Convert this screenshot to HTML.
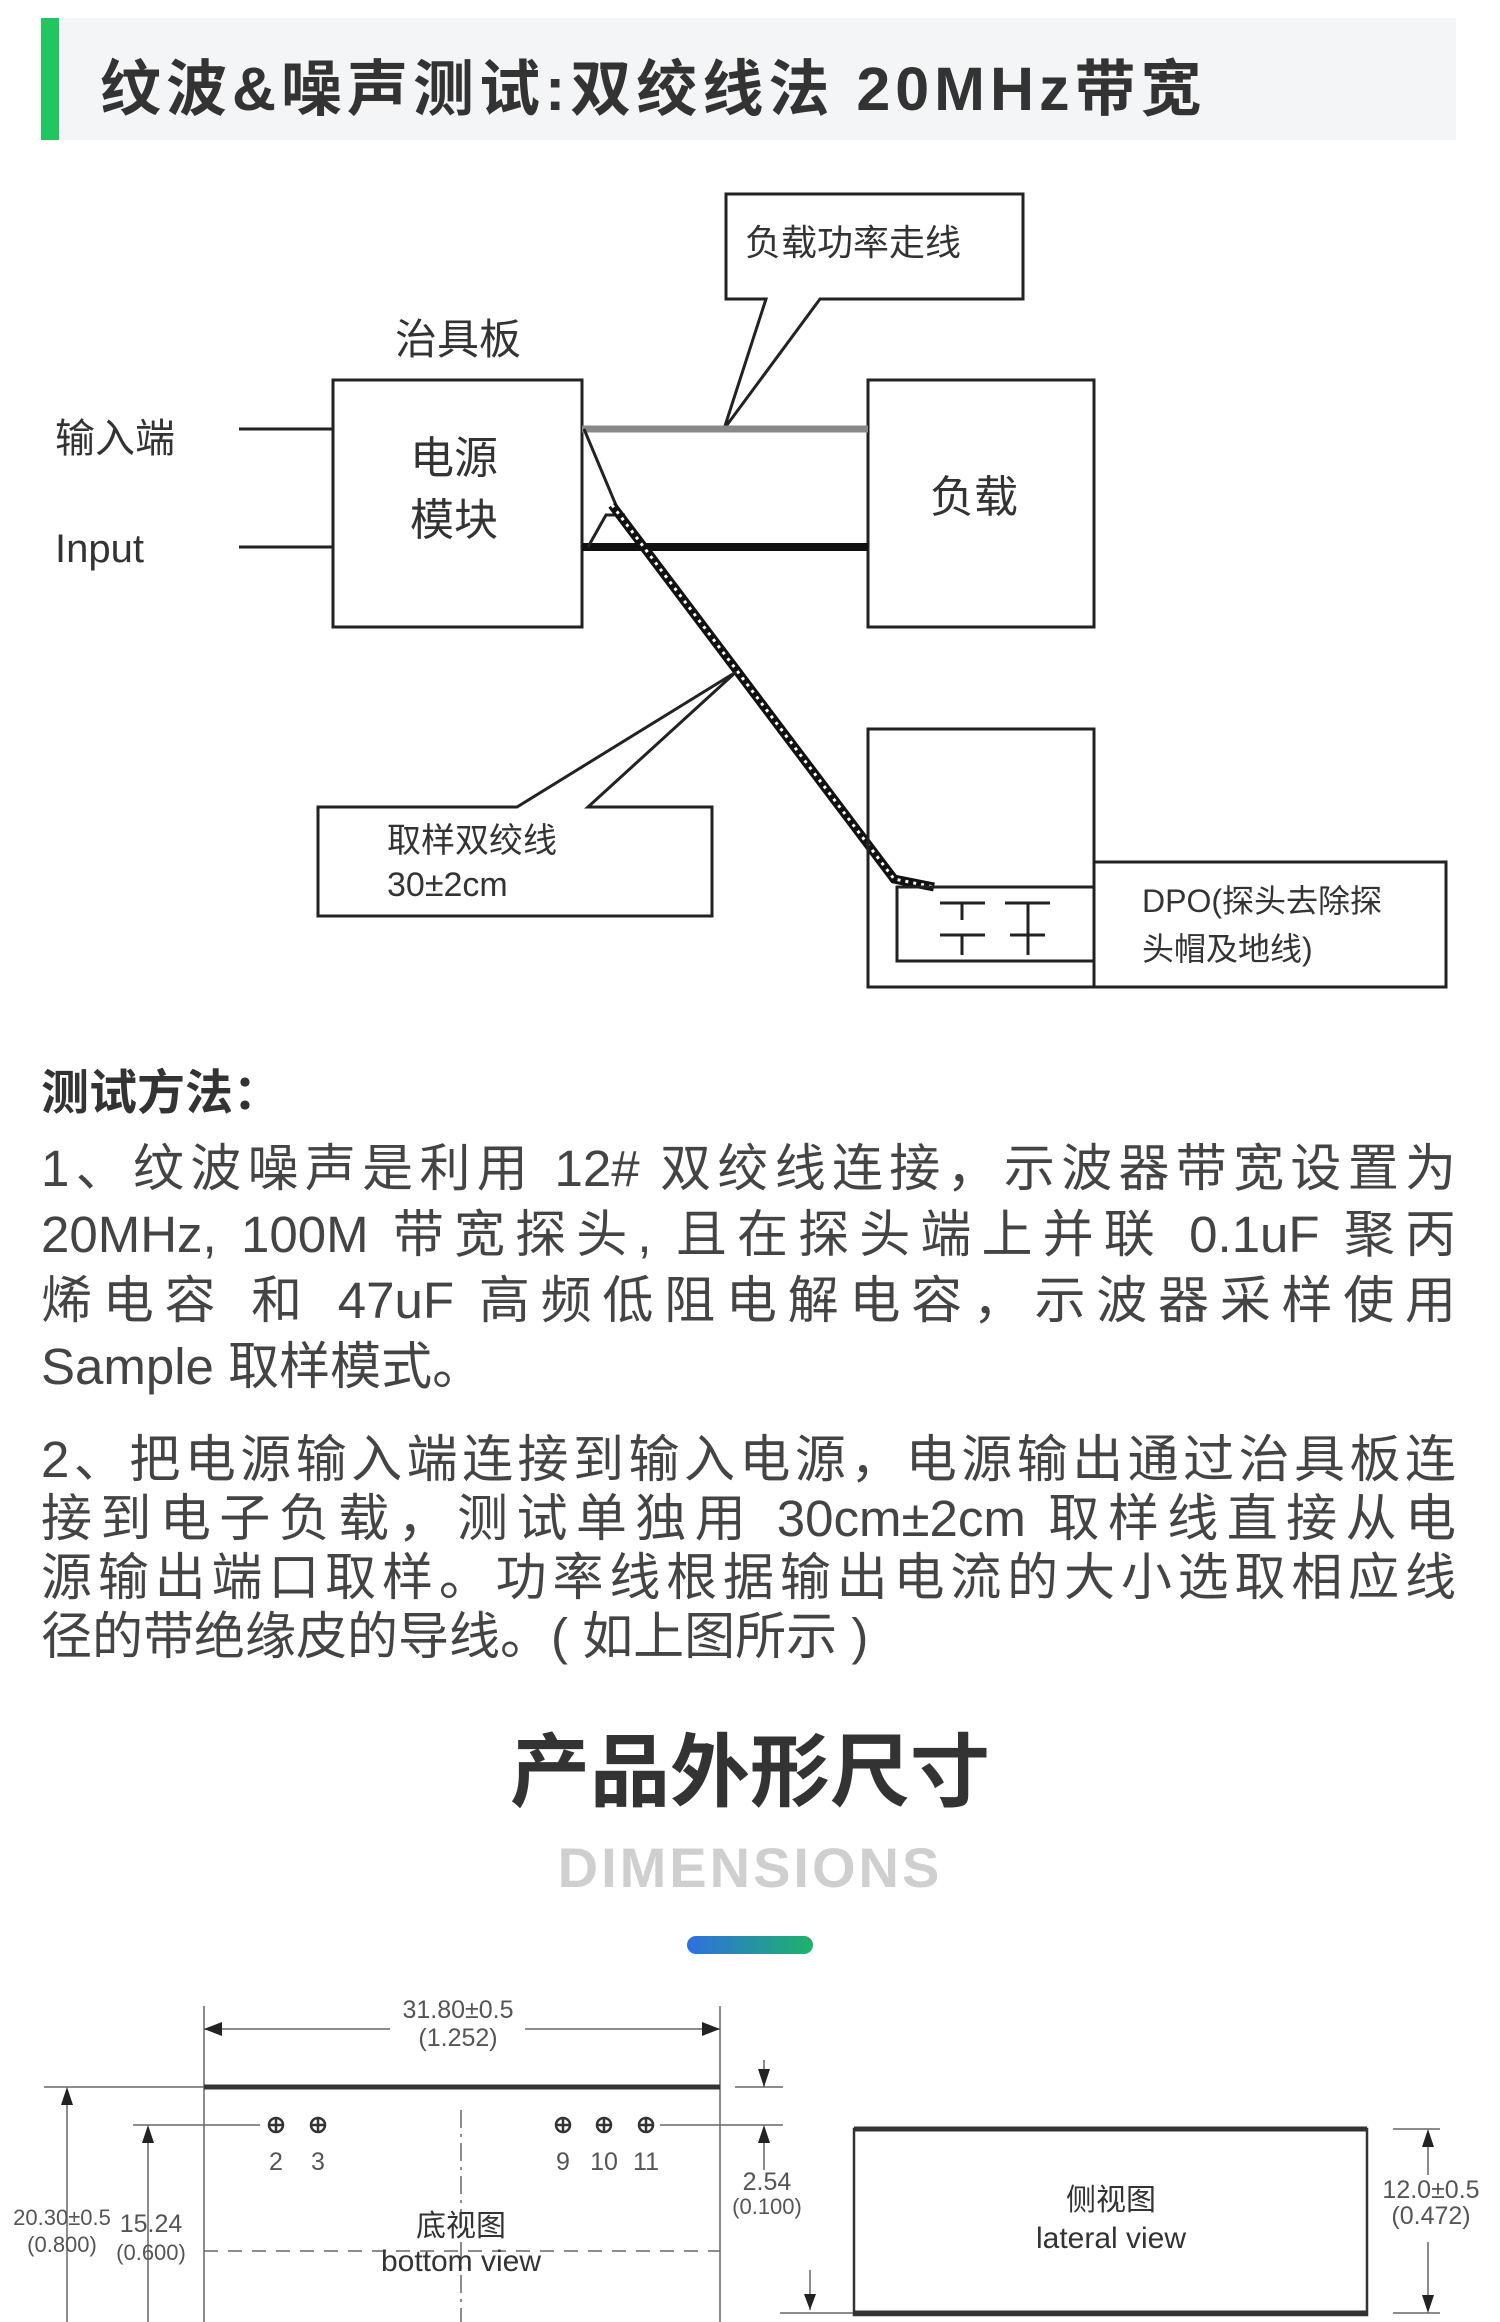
<!DOCTYPE html>
<html><head><meta charset="utf-8">
<style>
html,body{margin:0;padding:0;background:#fff;}
body{width:1500px;height:2322px;position:relative;overflow:hidden;font-family:"Liberation Sans","Noto Sans CJK SC",sans-serif;}
.hdr{position:absolute;left:41px;top:18px;width:1415px;height:122px;background:#f4f5f7;}
.bar{position:absolute;left:41px;top:18px;width:18px;height:122px;background:#22c55e;}
.title{position:absolute;left:100px;top:39px;font-size:61px;font-weight:bold;color:#333;white-space:nowrap;letter-spacing:5px;}
.ln{position:absolute;left:41px;width:1415px;font-size:51px;color:#444;text-align:justify;text-align-last:justify;white-space:nowrap;line-height:1;}
.h3{position:absolute;left:41px;top:1053px;font-size:48px;font-weight:bold;color:#333;}
.big{position:absolute;left:0;width:1500px;text-align:center;}
</style></head><body>
<div class="hdr"></div><div class="bar"></div>
<div class="title">纹波&amp;噪声测试:双绞线法 20MHz带宽</div>

<svg style="position:absolute;left:0;top:0" width="1500" height="1000" font-family="Liberation Sans, Noto Sans CJK SC, sans-serif" fill="none" stroke="#222">
 <path d="M726 194 H1023 V299 H820 L724 429 L766 299 H726 Z" stroke-width="3" fill="#fff"/>
 <text x="745" y="255" font-size="36" fill="#333" stroke="none">负载功率走线</text>
 <text x="395" y="354" font-size="42" fill="#333" stroke="none">治具板</text>
 <rect x="333" y="380" width="249" height="247" stroke-width="3"/>
 <rect x="868" y="380" width="226" height="247" stroke-width="3"/>
 <text x="410" y="473" font-size="44" fill="#333" stroke="none">电源</text>
 <text x="410" y="535" font-size="44" fill="#333" stroke="none">模块</text>
 <text x="930" y="512" font-size="44" fill="#333" stroke="none">负载</text>
 <text x="55" y="452" font-size="40" fill="#333" stroke="none">输入端</text>
 <text x="55" y="562" font-size="40" fill="#333" stroke="none">Input</text>
 <line x1="239" y1="429" x2="333" y2="429" stroke-width="3"/>
 <line x1="239" y1="547" x2="333" y2="547" stroke-width="3"/>
 <line x1="582" y1="429" x2="868" y2="429" stroke="#888" stroke-width="7"/>
 <line x1="582" y1="547" x2="868" y2="547" stroke="#111" stroke-width="8"/>
 <path d="M584 429 L618 510 M588 547 L606 515 L625 515" stroke-width="3"/>
 <path d="M612 505 L894 879 L934 887" stroke="#111" stroke-width="9"/>
 <path d="M612 505 L894 879 L934 887" stroke="#fff" stroke-width="3" stroke-dasharray="3 5"/>
 <path d="M318 807 H517 L736 672 L588 807 H712 V916 H318 Z" stroke-width="3" fill="#fff"/>
 <text x="387" y="852" font-size="34" fill="#333" stroke="none">取样双绞线</text>
 <text x="387" y="896" font-size="34" fill="#333" stroke="none">30±2cm</text>
 <rect x="868" y="729" width="226" height="258" stroke-width="3"/>
 <rect x="1094" y="862" width="352" height="125" stroke-width="3"/>
 <rect x="897" y="887" width="197" height="74" stroke-width="3"/>
 <path d="M940 903 H985 M962 903 V920 M940 935 H985 M962 935 V955 M1005 903 H1050 M1028 903 V955 M1010 935 H1045" stroke-width="3"/>
 <text x="1142" y="912" font-size="32" fill="#333" stroke="none">DPO(探头去除探</text>
 <text x="1142" y="960" font-size="32" fill="#333" stroke="none">头帽及地线)</text>
</svg>

<div class="h3">测试方法：</div>
<div class="ln" style="top:1143px">1、纹波噪声是利用 12# 双绞线连接，示波器带宽设置为</div>
<div class="ln" style="top:1209px">20MHz, 100M 带宽探头, 且在探头端上并联 0.1uF 聚丙</div>
<div class="ln" style="top:1275px">烯电容 和 47uF 高频低阻电解电容，示波器采样使用</div>
<div class="ln" style="top:1341px;text-align-last:left">Sample 取样模式。</div>
<div class="ln" style="top:1434px">2、把电源输入端连接到输入电源，电源输出通过治具板连</div>
<div class="ln" style="top:1493px">接到电子负载，测试单独用 30cm±2cm 取样线直接从电</div>
<div class="ln" style="top:1552px">源输出端口取样。功率线根据输出电流的大小选取相应线</div>
<div class="ln" style="top:1611px;text-align-last:left">径的带绝缘皮的导线。( 如上图所示 )</div>

<div class="big" style="top:1708px;font-size:80px;font-weight:bold;color:#333;">产品外形尺寸</div>
<div class="big" style="top:1835px;font-size:56px;font-weight:bold;color:#cfcfcf;letter-spacing:3px;">DIMENSIONS</div>
<div style="position:absolute;left:687px;top:1936px;width:126px;height:18px;border-radius:9px;background:linear-gradient(90deg,#2f6fe0,#1fb36a);"></div>

<svg style="position:absolute;left:0;top:1980px" width="1500" height="342" font-family="Liberation Sans Narrow, Liberation Sans, Noto Sans CJK SC, sans-serif" stroke="#333" fill="none">
 <g stroke-width="1.5" stroke="#666">
  <line x1="204" y1="26" x2="204" y2="342"/><line x1="720" y1="26" x2="720" y2="342"/>
  <line x1="204" y1="49" x2="390" y2="49"/><line x1="525" y1="49" x2="720" y2="49"/>
  <line x1="44" y1="107" x2="204" y2="107"/><line x1="735" y1="107" x2="783" y2="107"/>
  <line x1="133" y1="145" x2="260" y2="145"/><line x1="660" y1="145" x2="783" y2="145"/>
  <line x1="67" y1="115" x2="67" y2="342"/><line x1="148" y1="150" x2="148" y2="342"/>
  <line x1="764" y1="80" x2="764" y2="107"/><line x1="764" y1="150" x2="764" y2="190"/>
  <line x1="461" y1="130" x2="461" y2="342" stroke-dasharray="18 6 3 6"/>
  <line x1="204" y1="271" x2="720" y2="271" stroke-dasharray="14 10"/>
  <line x1="1393" y1="149" x2="1440" y2="149"/><line x1="1393" y1="333" x2="1440" y2="333"/>
  <line x1="1428" y1="154" x2="1428" y2="195"/><line x1="1428" y1="262" x2="1428" y2="330"/>
  <line x1="810" y1="290" x2="810" y2="330"/><line x1="780" y1="333" x2="854" y2="333"/>
 </g>
 <g fill="#222" stroke="none">
  <path d="M204 49 l18 -7 v14z M720 49 l-18 -7 v14z M67 107 l-6 18 h12z M148 145 l-6 18 h12z M764 107 l-6 -18 h12z M764 145 l-6 18 h12z M1428 149 l-6 18 h12z M1428 333 l-6 -18 h12z M810 330 l-6 -16 h12z"/>
 </g>
 <line x1="204" y1="107" x2="720" y2="107" stroke-width="5"/>
 <rect x="854" y="149" width="513" height="186" stroke-width="2.5"/>
 <line x1="854" y1="149" x2="1367" y2="149" stroke-width="5"/>
 <line x1="854" y1="333" x2="1367" y2="333" stroke-width="5"/>
 <g stroke-width="2.5">
  <circle cx="276" cy="145" r="7"/><circle cx="318" cy="145" r="7"/><circle cx="563" cy="145" r="7"/><circle cx="604" cy="145" r="7"/><circle cx="646" cy="145" r="7"/>
  <path d="M276 137v16M318 137v16M563 137v16M604 137v16M646 137v16M269 145h14M311 145h14M556 145h14M597 145h14M639 145h14"/>
 </g>
 <g fill="#555" stroke="none" text-anchor="middle" font-size="25">
  <text x="458" y="38">31.80±0.5</text><text x="458" y="66">(1.252)</text>
  <text x="276" y="190">2</text><text x="318" y="190">3</text><text x="563" y="190">9</text><text x="604" y="190">10</text><text x="646" y="190">11</text>
  <text x="62" y="245" font-size="22">20.30±0.5</text><text x="62" y="272" font-size="22">(0.800)</text>
  <text x="151" y="252">15.24</text><text x="151" y="280" font-size="22">(0.600)</text>
  <text x="767" y="210">2.54</text><text x="767" y="234" font-size="22">(0.100)</text>
  <text x="1431" y="218">12.0±0.5</text><text x="1431" y="244">(0.472)</text>
  <text x="461" y="256" font-size="30" fill="#333">底视图</text>
  <text x="461" y="291" font-size="30" fill="#333">bottom view</text>
  <text x="1111" y="230" font-size="30" fill="#333">侧视图</text>
  <text x="1111" y="268" font-size="30" fill="#333">lateral view</text>
 </g>
</svg>
</body></html>
